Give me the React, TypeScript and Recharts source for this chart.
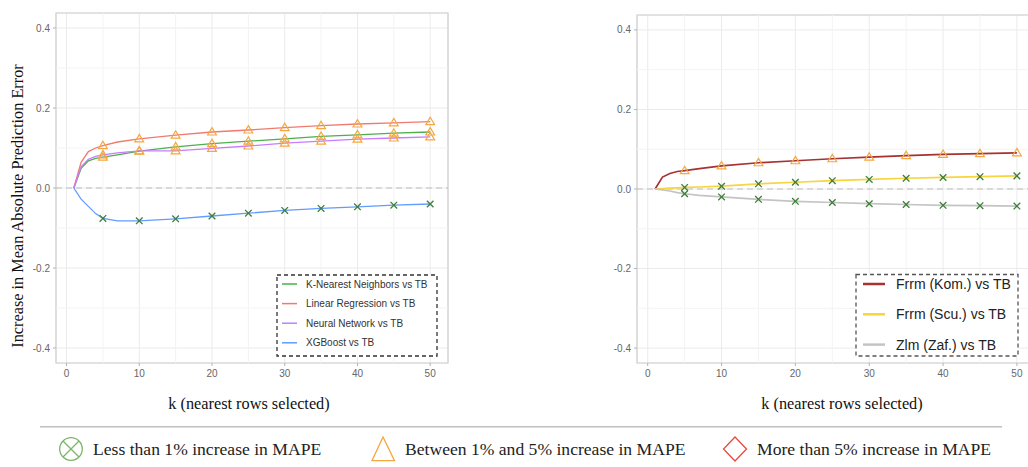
import React from 'react';
import { LineChart, Line, XAxis, YAxis, CartesianGrid, ReferenceLine, ReferenceArea } from 'recharts';

// ---------- data ----------
const kValues = [1, 2, 3, 4, 5, 7, 10, 15, 20, 25, 30, 35, 40, 45, 50];

// left panel
const knnVsTB = [0, 0.049, 0.068, 0.074, 0.077, 0.083, 0.092, 0.103, 0.111, 0.117, 0.123, 0.129, 0.133, 0.137, 0.14];
const lrVsTB = [0, 0.064, 0.091, 0.1, 0.106, 0.115, 0.123, 0.132, 0.14, 0.145, 0.151, 0.156, 0.16, 0.163, 0.166];
const nnVsTB = [0, 0.053, 0.072, 0.079, 0.083, 0.088, 0.093, 0.093, 0.099, 0.105, 0.112, 0.117, 0.122, 0.125, 0.128];
const xgbVsTB = [0, -0.028, -0.046, -0.064, -0.076, -0.082, -0.082, -0.077, -0.07, -0.063, -0.056, -0.051, -0.047, -0.043, -0.04];

// right panel
const komVsTB = [0, 0.03, 0.039, 0.044, 0.046, 0.051, 0.058, 0.066, 0.071, 0.076, 0.08, 0.084, 0.087, 0.089, 0.091];
const scuVsTB = [0, 0.001, 0.002, 0.003, 0.004, 0.005, 0.007, 0.013, 0.017, 0.021, 0.024, 0.027, 0.029, 0.031, 0.033];
const zafVsTB = [0, -0.002, -0.005, -0.009, -0.012, -0.016, -0.02, -0.026, -0.031, -0.034, -0.037, -0.039, -0.041, -0.042, -0.043];

const markerKs = [5, 10, 15, 20, 25, 30, 35, 40, 45, 50];
const xTicks = [0, 10, 20, 30, 40, 50];
const xMinor = [5, 15, 25, 35, 45];
const yTicks = [-0.4, -0.2, 0, 0.2, 0.4];
const yMinor = [-0.3, -0.1, 0.1, 0.3];
const xDomain: [number, number] = [-1.45, 52.45];
const yDomain: [number, number] = [-0.4375, 0.4375];

const leftSeries = [
  { key: 'knn', name: 'K-Nearest Neighbors vs TB', color: '#4daf4a', marker: 'tri' },
  { key: 'lr', name: 'Linear Regression vs TB', color: '#f07a70', marker: 'tri' },
  { key: 'nn', name: 'Neural Network vs TB', color: '#c77cff', marker: 'tri' },
  { key: 'xgb', name: 'XGBoost vs TB', color: '#619cff', marker: 'x' },
];
const rightSeries = [
  { key: 'kom', name: 'Frrm (Kom.) vs TB', color: '#a83232', marker: 'tri' },
  { key: 'scu', name: 'Frrm (Scu.) vs TB', color: '#f7d53c', marker: 'x' },
  { key: 'zaf', name: 'Zlm (Zaf.) vs TB', color: '#c4c4c4', marker: 'x' },
];

const leftData = kValues.map((k, i) => ({ k, knn: knnVsTB[i], lr: lrVsTB[i], nn: nnVsTB[i], xgb: xgbVsTB[i] }));
const rightData = kValues.map((k, i) => ({ k, kom: komVsTB[i], scu: scuVsTB[i], zaf: zafVsTB[i] }));

const ORANGE = '#f5a742';
const XGREEN = '#3f7d3a';
const SANS = '"Liberation Sans", Arial, sans-serif';
const SERIF = '"Liberation Serif", "Times New Roman", serif';

const makeDot = (kind: string) => (props: any) => {
  const { cx, cy, payload, index } = props;
  const key = `d-${kind}-${index}`;
  if (cx == null || cy == null || !markerKs.includes(payload.k)) return <g key={key} />;
  if (kind === 'tri') {
    return (
      <path
        key={key}
        d={`M${cx},${cy - 4.4} L${cx + 4.4},${cy + 3} L${cx - 4.4},${cy + 3} Z`}
        fill="none"
        stroke={ORANGE}
        strokeWidth={1.2}
      />
    );
  }
  const s = 3.3;
  return (
    <g key={key} stroke={XGREEN} strokeWidth={1.3}>
      <line x1={cx - s} y1={cy - s} x2={cx + s} y2={cy + s} />
      <line x1={cx - s} y1={cy + s} x2={cx + s} y2={cy - s} />
    </g>
  );
};

const tickStyle = { fontSize: 10, fill: '#666', fontFamily: SANS };

function Panel({ data, series, width, margin, lineWidth }: any) {
  return (
    <LineChart width={width} height={383} data={data} margin={margin}>
      <CartesianGrid stroke="#ebebeb" strokeWidth={1} />
      {xMinor.map((v) => (
        <ReferenceLine key={`xm${v}`} x={v} stroke="#f3f3f3" strokeWidth={1} />
      ))}
      {yMinor.map((v) => (
        <ReferenceLine key={`ym${v}`} y={v} stroke="#f3f3f3" strokeWidth={1} />
      ))}
      <ReferenceArea x1={xDomain[0]} x2={xDomain[1]} y1={yDomain[0]} y2={yDomain[1]} fill="none" stroke="#cfcfcf" strokeWidth={1.2} />
      <ReferenceLine y={0} stroke="#bdbdbd" strokeDasharray="6 4" strokeWidth={1} />
      <XAxis
        type="number"
        dataKey="k"
        domain={xDomain}
        ticks={xTicks}
        interval={0}
        allowDataOverflow
        axisLine={false}
        tickLine={{ stroke: '#b3b3b3' }}
        tickSize={3}
        tickMargin={4}
        tick={tickStyle}
        height={20}
      />
      <YAxis
        type="number"
        domain={yDomain}
        ticks={yTicks}
        interval={0}
        allowDataOverflow
        axisLine={false}
        tickLine={{ stroke: '#b3b3b3' }}
        tickSize={3}
        tickMargin={3}
        tick={tickStyle}
        tickFormatter={(v: number) => v.toFixed(1)}
        width={50}
      />
      {series.map((s: any) => (
        <Line
          key={s.key}
          type="linear"
          dataKey={s.key}
          stroke={s.color}
          strokeWidth={lineWidth}
          dot={makeDot(s.marker)}
          activeDot={false}
          isAnimationActive={false}
        />
      ))}
    </LineChart>
  );
}

export default function App() {
  return (
    <div style={{ position: 'absolute', left: 0, top: 0, width: 1028, height: 467, overflow: 'hidden', background: '#fff' }}>
      <div style={{ position: 'absolute', left: 0, top: 0 }}>
        <Panel data={leftData} series={leftSeries} width={460} margin={{ top: 13, right: 12, left: 6, bottom: 0 }} lineWidth={1.3} />
      </div>
      <div style={{ position: 'absolute', left: 560, top: 0 }}>
        <Panel data={rightData} series={rightSeries} width={490} margin={{ top: 15, right: 15, left: 27, bottom: 0 }} lineWidth={1.7} />
      </div>
      <svg width={1028} height={467} style={{ position: 'absolute', left: 0, top: 0, pointerEvents: 'none' }}>
        {/* axis titles */}
        <text x={17} y={206} transform="rotate(-90 17 206)" textAnchor="middle" dominantBaseline="central" fontFamily={SERIF} fontSize={16.3} fill="#111">
          Increase in Mean Absolute Prediction Error
        </text>
        <text x={249} y={403} textAnchor="middle" dominantBaseline="central" fontFamily={SERIF} fontSize={16.3} fill="#111">
          k (nearest rows selected)
        </text>
        <text x={842} y={403} textAnchor="middle" dominantBaseline="central" fontFamily={SERIF} fontSize={16.3} fill="#111">
          k (nearest rows selected)
        </text>

        {/* left legend */}
        <rect x={277} y={275} width={160} height={81} fill="#fff" stroke="#333" strokeWidth={1.3} strokeDasharray="4 3" />
        {leftSeries.map((s, i) => {
          const y = 284 + i * 19.6;
          return (
            <g key={s.key}>
              <line x1={282} x2={297} y1={y} y2={y} stroke={s.color} strokeWidth={1.5} />
              <text x={306} y={y} dominantBaseline="central" fontFamily={SANS} fontSize={10} fill="#333">
                {s.name}
              </text>
            </g>
          );
        })}

        {/* right legend */}
        <rect x={856} y={274.5} width={162} height={81.5} fill="#fff" stroke="#555" strokeWidth={1.3} strokeDasharray="4 3" />
        {rightSeries.map((s, i) => {
          const y = 284 + i * 30.3;
          return (
            <g key={s.key}>
              <line x1={863} x2={885} y1={y} y2={y} stroke={s.color} strokeWidth={2.5} />
              <text x={896} y={y} dominantBaseline="central" fontFamily={SANS} fontSize={14} fill="#222">
                {s.name}
              </text>
            </g>
          );
        })}

        {/* bottom legend */}
        <line x1={40} x2={1002} y1={426.7} y2={426.7} stroke="#bfbfbf" strokeWidth={1.5} />
        <circle cx={71} cy={449} r={11.3} fill="none" stroke="#7cb56b" strokeWidth={1.3} />
        <line x1={63} y1={441} x2={79} y2={457} stroke="#7cb56b" strokeWidth={1.3} />
        <line x1={63} y1={457} x2={79} y2={441} stroke="#7cb56b" strokeWidth={1.3} />
        <text x={93} y={449} dominantBaseline="central" fontFamily={SERIF} fontSize={17.6} fill="#222">
          Less than 1% increase in MAPE
        </text>
        <polygon points="383,437 372,460.7 394.5,460.7" fill="none" stroke={ORANGE} strokeWidth={1.3} />
        <text x={405} y={449} dominantBaseline="central" fontFamily={SERIF} fontSize={17.6} fill="#222">
          Between 1% and 5% increase in MAPE
        </text>
        <polygon points="735,437 746.5,449 735,461 723.5,449" fill="none" stroke="#e84a3f" strokeWidth={1.3} />
        <text x={757} y={449} dominantBaseline="central" fontFamily={SERIF} fontSize={17.6} fill="#222">
          More than 5% increase in MAPE
        </text>
      </svg>
    </div>
  );
}
